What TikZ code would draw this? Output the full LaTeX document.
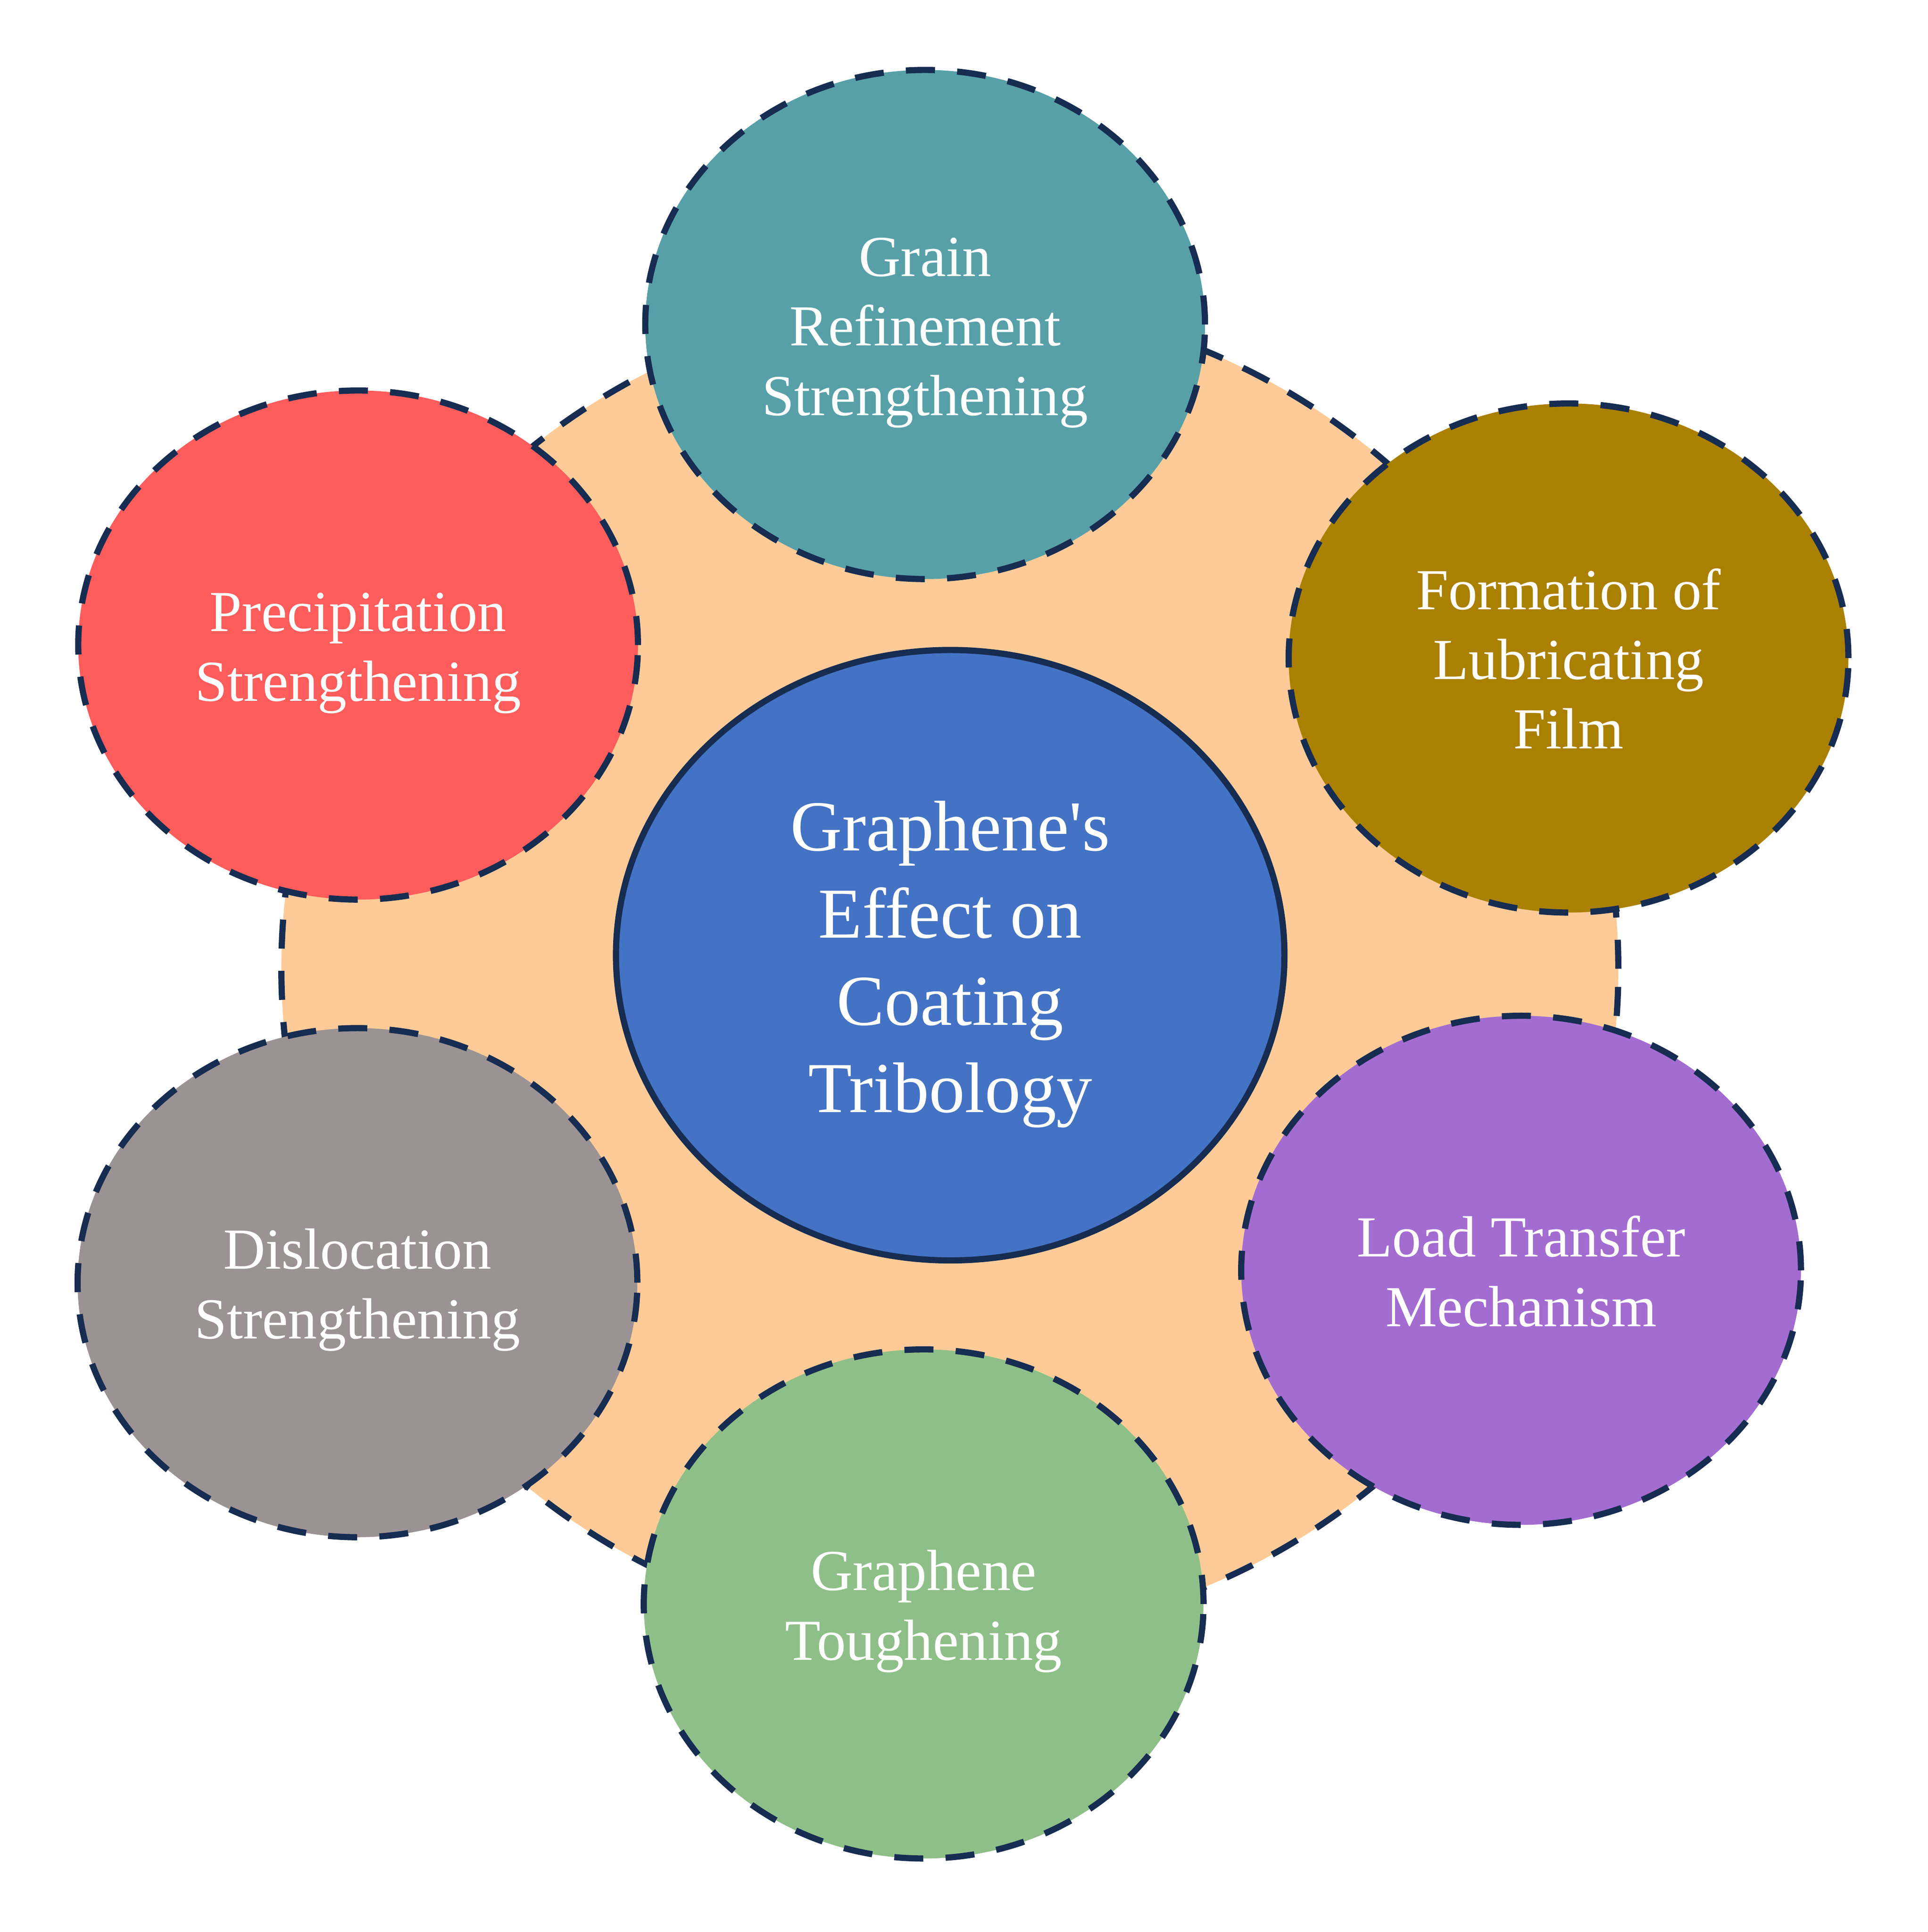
\documentclass[tikz,border=0pt]{standalone}
\usepackage{fontspec}
\newfontfamily\ser{Liberation Serif}
\usetikzlibrary{shapes.geometric}
\definecolor{navy}{HTML}{172C51}
\definecolor{corange}{HTML}{FECB98}
\definecolor{cblue}{HTML}{4472C4}
\definecolor{cteal}{HTML}{58A0A8}
\definecolor{cgold}{HTML}{AA8000}
\definecolor{cpurple}{HTML}{A36CD1}
\definecolor{cgreen}{HTML}{8FBF88}
\definecolor{cgrey}{HTML}{9B9393}
\definecolor{cred}{HTML}{FF5C5C}
\newcommand{\sT}{\rule{0pt}{0.98em}}
\newcommand{\sB}{\rule[-0.25em]{0pt}{0.25em}}
\begin{document}
\begin{tikzpicture}[x=1pt,y=-1pt,
  dsh/.style={draw=navy, line width=5pt, dash pattern=on 23.5pt off 18pt},
  bub/.style={ellipse, dsh, minimum width=453pt, minimum height=412pt, inner sep=0pt,
    text=white, align=center, font=\ser\fontsize{47}{56.3}\selectfont},
  core/.style={ellipse, draw=navy, line width=5pt, fill=cblue, minimum width=541pt,
    minimum height=494pt, inner sep=0pt, text=white, align=center,
    font=\ser\fontsize{58}{70.6}\selectfont}]
\useasboundingbox (0,0) rectangle (1560,1563.5);
\node[circle, dsh, fill=corange, minimum size=1082pt, inner sep=0pt] (hub) at (768.7,784) {};
\node[core] (root) at (769,773) {\sT Graphene's\\Effect on\\Coating\\Tribology\sB};
\node[bub, fill=cteal] (grain) at (748.7,262.6) {\sT Grain\\Refinement\\Strengthening\sB};
\node[bub, fill=cgold] (form) at (1269.4,532.5) {\sT Formation of\\Lubricating\\Film\sB};
\node[bub, fill=cpurple] (load) at (1231,1028) {\sT Load Transfer\\Mechanism\sB};
\node[bub, fill=cgreen] (tough) at (747.5,1298) {\sT Graphene\\Toughening\sB};
\node[bub, fill=cgrey] (disl) at (289.3,1038) {\sT Dislocation\\Strengthening\sB};
\node[bub, fill=cred] (prec) at (289.8,522) {\sT Precipitation\\Strengthening\sB};
\end{tikzpicture}
\end{document}
